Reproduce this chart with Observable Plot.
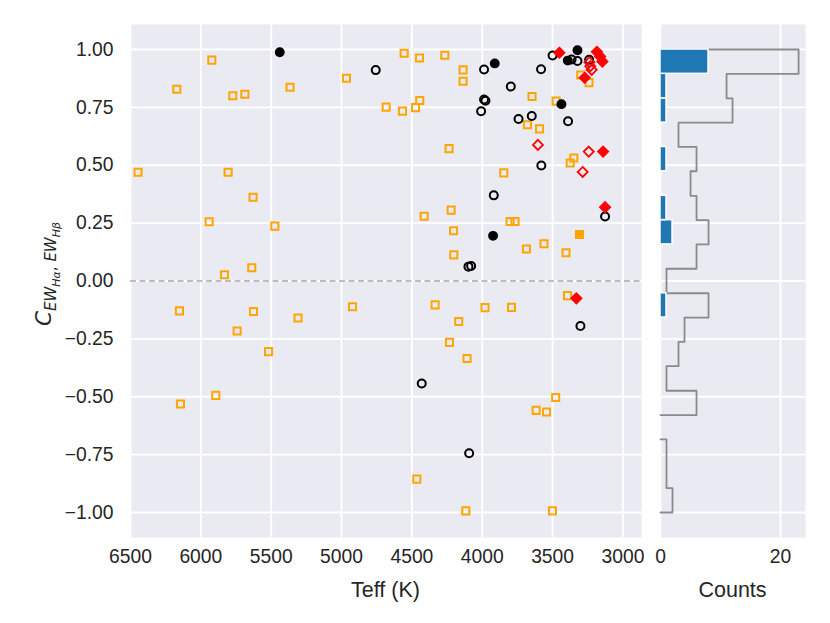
<!DOCTYPE html>
<html><head><meta charset="utf-8">
<script src="https://cdn.jsdelivr.net/npm/d3@7"></script>
<script src="https://cdn.jsdelivr.net/npm/@observablehq/plot@0.6"></script>
<style>
body{margin:0;background:#fff;}
#wrap{position:relative;width:830px;height:623px;font-family:"Liberation Sans",Arial,sans-serif;}
#wrap svg{position:absolute;top:0;overflow:visible;}
</style></head><body><div id="wrap"></div>
<script>
// ---- scatter data (Teff in K, correlation coefficient) ----
const orangeOpenTeff = [6446,6171,5922,5773,5687,5806,5629,5941,5474,5638,5832,5366,4965,6152,5626,5309,4922,5742,5519,5894,6145,
  4555,4446,4266,4136,4136,4683,4567,4474,4444,4236,3646,3475,3679,3593,3300,3241,3349,3375,3847,4413,4221,4204,4202,3802,3767,3561,3686,3405,
  3394,4335,3980,3792,4167,4233,4108,3478,3617,3543,4465,4117,3501];
const orangeOpenC = [0.47,0.828,0.954,0.80,0.807,0.47,0.362,0.256,0.237,0.057,0.027,0.837,0.876,-0.129,-0.132,-0.160,-0.111,-0.216,-0.305,-0.494,-0.531,
  0.984,0.963,0.975,0.912,0.863,0.751,0.734,0.749,0.78,0.572,0.797,0.777,0.675,0.657,0.89,0.857,0.531,0.51,0.467,0.28,0.306,0.217,0.113,0.257,0.257,0.161,0.138,0.122,
  -0.063,-0.103,-0.115,-0.114,-0.175,-0.265,-0.335,-0.503,-0.559,-0.566,-0.856,-0.993,-0.993];
const orangeFilledTeff = [3309];
const orangeFilledC = [0.201];
const blackOpenTeff = [4757,3987,3582,3500,3365,3323,3240,3797,3987,3977,4008,3742,3648,3390,3580,3918,3127,4098,4079,3302,4430,4093];
const blackOpenC = [0.911,0.914,0.915,0.974,0.957,0.95,0.956,0.84,0.784,0.779,0.733,0.70,0.713,0.69,0.499,0.37,0.279,0.062,0.065,-0.194,-0.443,-0.744];
const blackFilledTeff = [5439,3911,3323,3392,3437,3923];
const blackFilledC = [0.988,0.94,0.997,0.952,0.764,0.195];
const redFilledTeff = [3452,3185,3162,3146,3272,3141,3127,3331];
const redFilledC = [0.986,0.99,0.97,0.948,0.878,0.559,0.319,-0.075];
const redOpenTeff = [3238,3232,3222,3604,3243,3286];
const redOpenC = [0.945,0.928,0.912,0.588,0.559,0.471];

// ---- histogram (bins along C) ----
const binEdges = [-1.000,-0.895,-0.789,-0.684,-0.579,-0.474,-0.368,-0.263,-0.158,-0.053,0.053,0.158,0.263,0.368,0.474,0.579,0.684,0.789,0.895,1.000];
const allCounts    = [2,1,1,0,6,1,3,4,8,1,6,8,6,5,6,3,12,11,23];
const filledCounts = [0,0,0,0,0,0,0,0,1,0,0,2,1,0,1,0,1,1,8];

// ---- ticks ----
const xTicks = [6500,6000,5500,5000,4500,4000,3500,3000];
const yTicks = [-1,-0.75,-0.5,-0.25,0,0.25,0.5,0.75,1];
const countTicks = [0,20];

const pts = (t, c) => t.map((v, i) => ({teff: v, c: c[i]}));
const diamond = {draw(ctx, size) { const h = Math.sqrt(size / 2); ctx.moveTo(0, -h); ctx.lineTo(h, 0); ctx.lineTo(0, h); ctx.lineTo(-h, 0); ctx.closePath(); }};
const fmtY = d => (d < 0 ? "\u2212" : "") + Math.abs(d).toFixed(2);

const yDomain = [-1.108, 1.108];
const bg = "#EAEAF2", txt = "#262626";
const gridStyle = {stroke: "white", strokeOpacity: 1, strokeWidth: 1.8};
const fontStyle = {fontFamily: "'Liberation Sans', Arial, sans-serif", fontSize: "19.3px", color: txt, background: "transparent", overflow: "visible"};

const main = Plot.plot({
  width: 650, height: 623,
  marginLeft: 130, marginRight: 9, marginTop: 24, marginBottom: 86,
  style: fontStyle,
  x: {domain: [6500, 2868]},
  y: {domain: yDomain},
  marks: [
    Plot.frame({fill: bg, stroke: null}),
    Plot.gridX(xTicks, gridStyle),
    Plot.gridY(yTicks, gridStyle),
    Plot.axisX(xTicks, {tickSize: 0, tickPadding: 12, label: null, tickFormat: d => String(d)}),
    Plot.axisY(yTicks, {tickSize: 0, tickPadding: 17, label: null, tickFormat: fmtY}),
    Plot.ruleY([0], {stroke: "#bdbdbd", strokeWidth: 1.8, strokeDasharray: "6,3.5"}),
    Plot.dot(pts(orangeOpenTeff, orangeOpenC), {x: "teff", y: "c", symbol: "square", r: 4, fill: "none", stroke: "orange", strokeWidth: 2}),
    Plot.dot(pts(orangeFilledTeff, orangeFilledC), {x: "teff", y: "c", symbol: "square", r: 4, fill: "orange", stroke: "orange", strokeWidth: 2}),
    Plot.dot(pts(blackOpenTeff, blackOpenC), {x: "teff", y: "c", symbol: "circle", r: 4, fill: "none", stroke: "black", strokeWidth: 2}),
    Plot.dot(pts(blackFilledTeff, blackFilledC), {x: "teff", y: "c", symbol: "circle", r: 4.2, fill: "black", stroke: "black", strokeWidth: 1.5}),
    Plot.dot(pts(redOpenTeff, redOpenC), {x: "teff", y: "c", symbol: diamond, r: 4, fill: "none", stroke: "red", strokeWidth: 1.8}),
    Plot.dot(pts(redFilledTeff, redFilledC), {x: "teff", y: "c", symbol: diamond, r: 4.4, fill: "red", stroke: "red", strokeWidth: 1.2})
  ]
});

const bins = allCounts.map((n, i) => ({lo: binEdges[i], hi: binEdges[i + 1], all: n, filled: filledCounts[i]}));
// step outline; a zero-count bin leaves a gap along the baseline
const stepPts = [{x: 0, y: binEdges[0]}].concat(
  bins.flatMap(b => b.all === 0
    ? [{x: 0, y: b.lo}, {x: NaN, y: NaN}, {x: 0, y: b.hi}]
    : [{x: b.all, y: b.lo}, {x: b.all, y: b.hi}]),
  [{x: 0, y: binEdges[binEdges.length - 1]}]);

const hist = Plot.plot({
  width: 189, height: 623,
  marginLeft: 19, marginRight: 25, marginTop: 24, marginBottom: 86,
  style: fontStyle,
  x: {domain: [0, 24.15]},
  y: {domain: yDomain, axis: null},
  marks: [
    Plot.frame({fill: bg, stroke: null}),
    Plot.gridX(countTicks, gridStyle),
    Plot.gridY(yTicks, gridStyle),
    Plot.axisX(countTicks, {tickSize: 0, tickPadding: 12, label: null}),
    Plot.line(stepPts, {x: "x", y: "y", stroke: "#8a8a8a", strokeWidth: 1.8}),
    Plot.rect(bins.filter(b => b.filled > 0), {x1: 0, x2: "filled", y1: "lo", y2: "hi", fill: "#1f77b4", stroke: "white", strokeWidth: 1.5})
  ]
});

const wrap = document.getElementById("wrap");
main.style.left = "0px";
hist.style.left = "641px";
wrap.appendChild(main);
wrap.appendChild(hist);

// axis titles
const ms = d3.select(main);
ms.append("text").attr("x", 385.5).attr("y", 597).attr("text-anchor", "middle")
  .attr("fill", txt).style("font-size", "21.5px").style("font-family", "'Liberation Sans', Arial, sans-serif").text("Teff (K)");
d3.select(hist).append("text").attr("x", 91.5).attr("y", 597).attr("text-anchor", "middle")
  .attr("fill", txt).style("font-size", "21.5px").style("font-family", "'Liberation Sans', Arial, sans-serif").text("Counts");

const yl = ms.append("text").attr("transform", "translate(51,274) rotate(-90)").attr("text-anchor", "middle")
  .attr("fill", txt).style("font-family", "'DejaVu Sans', sans-serif");
yl.append("tspan").style("font-size", "21.5px").style("font-style", "italic").text("C");
yl.append("tspan").attr("dy", 5).style("font-size", "15px").style("font-style", "italic").text("EW");
yl.append("tspan").attr("dy", 3.5).style("font-size", "11px").style("font-style", "italic").text("H\u03B1");
yl.append("tspan").attr("dy", -3.5).style("font-size", "15px").text(", ");
yl.append("tspan").style("font-size", "15px").style("font-style", "italic").text("EW");
yl.append("tspan").attr("dy", 3.5).style("font-size", "11px").style("font-style", "italic").text("H\u03B2");
</script>
</body></html>
